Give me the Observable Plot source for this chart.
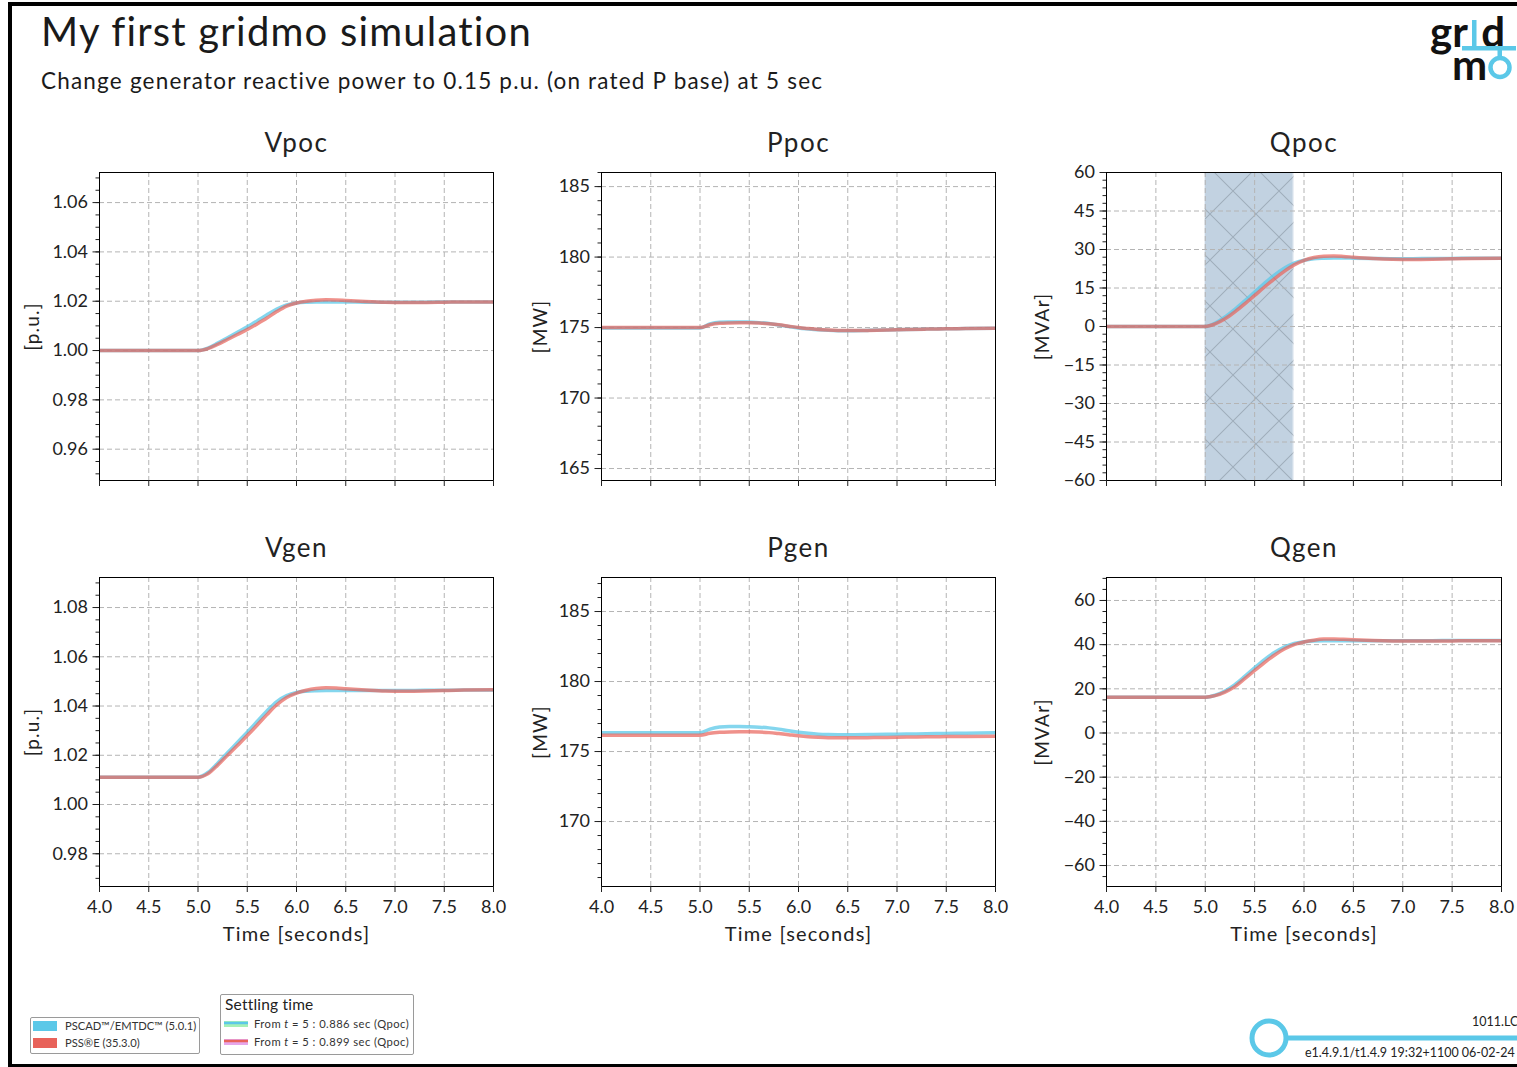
<!DOCTYPE html>
<html>
<head>
<meta charset="utf-8">
<script src="https://cdn.jsdelivr.net/npm/d3@7"></script>
<script src="https://cdn.jsdelivr.net/npm/@observablehq/plot@0.6"></script>
<style>
  html, body { margin:0; padding:0; background:#fff; }
  body { width:1517px; height:1067px; position:relative; overflow:hidden; font-family: Lato, "Noto Sans", sans-serif; color:#1a1a1a; }
  .abs { position:absolute; }
  #frame { left:8px; top:2px; width:1600px; height:1058px; border:4px solid #000; border-right:none; box-sizing:content-box; }
  #title { left:41px; top:7px; font-size:40px; letter-spacing:1.2px; white-space:nowrap; }
  #subtitle { left:41px; top:67px; font-size:22.5px; letter-spacing:1.2px; white-space:nowrap; }
  .leg { border:1px solid #9a9a9a; border-radius:2px; background:#fff; }
  .legtxt { font-size:11.2px; white-space:nowrap; color:#333; }
</style>
</head>
<body>
<svg width="0" height="0" style="position:absolute">
  <defs>
    <pattern id="hatch" patternUnits="userSpaceOnUse" width="46" height="46">
      <path d="M0,0L46,46M46,0L0,46" stroke="rgba(70,80,90,0.28)" stroke-width="1.1" fill="none"/>
    </pattern>
  </defs>
</svg>
<div id="frame" class="abs"></div>
<div id="title" class="abs">My first gridmo simulation</div>
<div id="subtitle" class="abs">Change generator reactive power to 0.15 p.u. (on rated P base) at 5 sec</div>

<!-- logo -->
<svg class="abs" style="left:1415px;top:0px" width="102" height="100">
  <text x="15" y="47" font-size="42" font-weight="700" font-family="Lato, sans-serif" fill="#111" style="word-spacing:4px">gr d</text>
  <rect x="57" y="20" width="4.5" height="28" fill="#5bc8e8"/>
  <rect x="47" y="46" width="54" height="4.5" fill="#5bc8e8"/>
  <rect x="82.5" y="48" width="4.5" height="10" fill="#5bc8e8"/>
  <text x="37" y="80" font-size="42" font-weight="700" font-family="Lato, sans-serif" fill="#111">m</text>
  <circle cx="85" cy="67.5" r="9.5" fill="none" stroke="#5bc8e8" stroke-width="4.5"/>
</svg>

<div id="charts"></div>

<!-- legends -->
<div class="abs leg" style="left:30px;top:1017px;width:168px;height:35px;"></div>
<div class="abs" style="left:33px;top:1021px;width:24px;height:10px;background:#5bc8e8"></div>
<div class="abs legtxt" style="left:65px;top:1019px;">PSCAD™/EMTDC™ (5.0.1)</div>
<div class="abs" style="left:33px;top:1038px;width:24px;height:10px;background:#e8625a"></div>
<div class="abs legtxt" style="left:65px;top:1036px;">PSS®E (35.3.0)</div>

<div class="abs leg" style="left:220px;top:994px;width:192px;height:59px;"></div>
<div class="abs" style="left:225px;top:995px;font-size:15.5px;letter-spacing:0.2px;color:#222;">Settling time</div>
<svg class="abs" style="left:222px;top:1016px" width="30" height="34">
  <line x1="2" y1="8" x2="26" y2="8" stroke="#a6f0b6" stroke-width="6"/>
  <line x1="2" y1="7" x2="26" y2="7" stroke="#5bc8e8" stroke-width="2.5"/>
  <line x1="2" y1="26" x2="26" y2="26" stroke="#e6a6ea" stroke-width="6"/>
  <line x1="2" y1="25" x2="26" y2="25" stroke="#e8625a" stroke-width="2.5"/>
</svg>
<div class="abs legtxt" style="left:254px;top:1017px;letter-spacing:0.45px;">From <i>t</i> = 5 : 0.886 sec (Qpoc)</div>
<div class="abs legtxt" style="left:254px;top:1035px;letter-spacing:0.45px;">From <i>t</i> = 5 : 0.899 sec (Qpoc)</div>

<!-- footer -->
<svg class="abs" style="left:1240px;top:1010px" width="280" height="57">
  <line x1="45" y1="28" x2="280" y2="28" stroke="#5bc8e8" stroke-width="5"/>
  <circle cx="29" cy="28" r="17" fill="#fff" stroke="#5bc8e8" stroke-width="5"/>
</svg>
<div class="abs" style="left:1472px;top:1014px;font-size:12.5px;white-space:nowrap;color:#222;">1011.LC</div>
<div class="abs" style="left:1305px;top:1045px;font-size:12.5px;white-space:nowrap;color:#222;">e1.4.9.1/t1.4.9 19:32+1100 06-02-24</div>

<script>
// ---------------- data ----------------
const T = [4.0, 5.0, 5.1, 5.2, 5.3, 5.4, 5.5, 5.6, 5.7, 5.8, 5.9, 6.0, 6.1, 6.2, 6.3, 6.4, 6.5, 6.7, 6.9, 7.1, 7.3, 7.5, 7.7, 8.0];

const vpocPSCAD = [1.0000,1.0000,1.0010,1.0030,1.0052,1.0074,1.0096,1.0120,1.0145,1.0168,1.0185,1.0193,1.0196,1.0197,1.0197,1.0197,1.0197,1.0196,1.0196,1.0196,1.0196,1.0197,1.0197,1.0197];
const vpocPSSE  = [1.0000,1.0000,1.0008,1.0025,1.0045,1.0065,1.0085,1.0108,1.0132,1.0158,1.0180,1.0193,1.0200,1.0204,1.0206,1.0205,1.0203,1.0199,1.0196,1.0195,1.0195,1.0196,1.0197,1.0197];

const ppocPSCAD = [174.97,174.97,175.25,175.38,175.40,175.40,175.38,175.35,175.28,175.18,175.07,174.97,174.90,174.84,174.80,174.78,174.78,174.80,174.83,174.86,174.89,174.91,174.93,174.95];
const ppocPSSE  = [175.00,175.00,175.20,175.30,175.33,175.34,175.34,175.32,175.27,175.20,175.10,175.00,174.93,174.87,174.83,174.80,174.79,174.80,174.83,174.86,174.89,174.91,174.93,174.95];

const qpocPSCAD = [0,0,1.3,3.7,6.7,10.0,13.4,16.8,20.0,22.7,24.7,25.8,26.4,26.6,26.7,26.7,26.6,26.5,26.4,26.4,26.5,26.5,26.6,26.6];
const qpocPSSE  = [0,0,1.0,3.0,5.7,8.8,12.1,15.4,18.6,21.5,24.0,25.8,26.9,27.4,27.5,27.3,27.0,26.5,26.2,26.1,26.2,26.4,26.5,26.6];

const vgenPSCAD = [1.0111,1.0111,1.0130,1.0168,1.0210,1.0252,1.0294,1.0337,1.0380,1.0418,1.0442,1.0455,1.0460,1.0462,1.0463,1.0463,1.0463,1.0463,1.0463,1.0463,1.0464,1.0464,1.0465,1.0465];
const vgenPSSE  = [1.0111,1.0111,1.0125,1.0160,1.0200,1.0240,1.0280,1.0322,1.0365,1.0405,1.0435,1.0452,1.0464,1.0471,1.0474,1.0473,1.0470,1.0465,1.0461,1.0460,1.0461,1.0463,1.0465,1.0466];

const pgenPSCAD = [176.34,176.34,176.60,176.75,176.79,176.79,176.77,176.74,176.69,176.60,176.48,176.38,176.30,176.24,176.21,176.20,176.20,176.21,176.23,176.25,176.27,176.29,176.31,176.34];
const pgenPSSE  = [176.16,176.16,176.30,176.37,176.40,176.41,176.41,176.39,176.35,176.28,176.20,176.12,176.06,176.02,175.99,175.98,175.98,175.99,176.01,176.03,176.05,176.07,176.08,176.10];

const qgenPSCAD = [16.2,16.2,17.1,19.0,21.9,25.6,29.5,33.2,36.4,38.9,40.5,41.3,41.7,41.8,41.8,41.8,41.8,41.8,41.8,41.8,41.8,41.9,41.9,41.9];
const qgenPSSE  = [16.2,16.2,16.9,18.5,21.0,24.6,28.3,31.9,35.2,38.0,40.0,41.2,42.0,42.5,42.6,42.4,42.2,41.9,41.7,41.6,41.6,41.7,41.8,41.8];

const xTicks = [4.0, 4.5, 5.0, 5.5, 6.0, 6.5, 7.0, 7.5, 8.0];
const settling = [{model: "PSCAD", t0: 5, t1: 5.886}, {model: "PSSE", t0: 5, t1: 5.899}];

const vpocTicks = [0.96, 0.98, 1.00, 1.02, 1.04, 1.06];
const ppocTicks = [165, 170, 175, 180, 185];
const qpocTicks = [-60, -45, -30, -15, 0, 15, 30, 45, 60];
const vgenTicks = [0.98, 1.00, 1.02, 1.04, 1.06, 1.08];
const pgenTicks = [170, 175, 180, 185];
const qgenTicks = [-60, -40, -20, 0, 20, 40, 60];

// ---------------- drawing ----------------
const BLUE = "#5bc8e8", RED = "#e8625a";
const toRows = (vals) => T.map((t, i) => ({t, v: vals[i]}));
const minor = (lo, hi, step) => d3.range(Math.ceil(lo / step - 1e-9), Math.floor(hi / step + 1e-9) + 1).map(k => +(k * step).toFixed(6));

const mL = 80, mR = 30, mT = 50, mB = 66;

function panel(cfg) {
  const {left, top, w, h, yDomain, yTicks, yStep, yFmt, title, ylabel, labelDx, pscad, psse, showX, band} = cfg;
  const grid = {stroke: "#b4b4b4", strokeOpacity: 1, strokeDasharray: "5,3", strokeWidth: 1};
  const chart = Plot.plot({
    width: w + mL + mR, height: h + mT + mB,
    marginLeft: mL, marginRight: mR, marginTop: mT, marginBottom: mB,
    style: {fontFamily: "Lato, 'Noto Sans', sans-serif", fontSize: "18px", color: "#222", background: "transparent", overflow: "visible"},
    x: {domain: [4, 8]},
    y: {domain: yDomain},
    marks: [
      band ? Plot.rect(settling, {x1: "t0", x2: "t1", fill: "#a9bfd5", fillOpacity: 0.45}) : null,
      band ? Plot.rect(settling.slice(1), {x1: "t0", x2: "t1", fill: "url(#hatch)"}) : null,
      Plot.gridX({ticks: xTicks, ...grid}),
      Plot.gridY({ticks: yTicks, ...grid}),
      Plot.line(toRows(pscad), {x: "t", y: "v", stroke: BLUE, strokeWidth: 3.5, strokeOpacity: 0.75, curve: "monotone-x", clip: true}),
      Plot.line(toRows(psse), {x: "t", y: "v", stroke: RED, strokeWidth: 3.5, strokeOpacity: 0.7, curve: "monotone-x", clip: true}),
      Plot.frame({stroke: "#000", strokeWidth: 1}),
      Plot.axisX({ticks: xTicks, tickSize: 6, tickPadding: 8, tickFormat: showX ? d3.format(".1f") : () => "", label: null}),
      Plot.axisY({ticks: minor(yDomain[0], yDomain[1], yStep), tickSize: 3.5, tickFormat: () => "", label: null}),
      Plot.axisY({ticks: yTicks, tickSize: 6.5, tickPadding: 5, tickFormat: yFmt, label: null}),
      Plot.text([title], {text: d => d, frameAnchor: "top", lineAnchor: "middle", dy: -29, fontSize: 26}),
      Plot.text([ylabel], {text: d => d, frameAnchor: "left", textAnchor: "middle", lineAnchor: "middle", dx: labelDx, rotate: -90, fontSize: 19}),
      showX ? Plot.text(["Time [seconds]"], {text: d => d, frameAnchor: "bottom", lineAnchor: "middle", dy: 48, fontSize: 20}) : null
    ]
  });
  // wider spacing for titles / labels to resemble the rounded original face
  d3.select(chart).selectAll("text").filter(function() {
    const s = this.textContent;
    return s === title || s === "Time [seconds]" || s === ylabel;
  }).style("letter-spacing", function() { return this.textContent === title ? "1.5px" : "1.2px"; });
  chart.style.position = "absolute";
  chart.style.left = (left - mL) + "px";
  chart.style.top = (top - mT) + "px";
  document.getElementById("charts").appendChild(chart);
}

const f2 = d3.format(".2f"), fi = d3.format("d");
const cols = [99, 601, 1106];
const rows = [172, 577];

panel({left: cols[0], top: rows[0], w: 394, h: 308, yDomain: [0.9473, 1.0722], yTicks: vpocTicks, yStep: 0.005, yFmt: f2,
  title: "Vpoc", ylabel: "[p.u.]", labelDx: -67, pscad: vpocPSCAD, psse: vpocPSSE, showX: false});
panel({left: cols[1], top: rows[0], w: 394, h: 308, yDomain: [164.15, 186.0], yTicks: ppocTicks, yStep: 1, yFmt: fi,
  title: "Ppoc", ylabel: "[MW]", labelDx: -61, pscad: ppocPSCAD, psse: ppocPSSE, showX: false});
panel({left: cols[2], top: rows[0], w: 395, h: 308, yDomain: [-60, 60], yTicks: qpocTicks, yStep: 3, yFmt: fi,
  title: "Qpoc", ylabel: "[MVAr]", labelDx: -64, pscad: qpocPSCAD, psse: qpocPSSE, showX: false, band: true});
panel({left: cols[0], top: rows[1], w: 394, h: 309, yDomain: [0.9667, 1.0922], yTicks: vgenTicks, yStep: 0.005, yFmt: f2,
  title: "Vgen", ylabel: "[p.u.]", labelDx: -67, pscad: vgenPSCAD, psse: vgenPSSE, showX: true});
panel({left: cols[1], top: rows[1], w: 394, h: 309, yDomain: [165.36, 187.43], yTicks: pgenTicks, yStep: 1, yFmt: fi,
  title: "Pgen", ylabel: "[MW]", labelDx: -61, pscad: pgenPSCAD, psse: pgenPSSE, showX: true});
panel({left: cols[2], top: rows[1], w: 395, h: 309, yDomain: [-69.5, 70.4], yTicks: qgenTicks, yStep: 5, yFmt: fi,
  title: "Qgen", ylabel: "[MVAr]", labelDx: -64, pscad: qgenPSCAD, psse: qgenPSSE, showX: true});
</script>
</body>
</html>
